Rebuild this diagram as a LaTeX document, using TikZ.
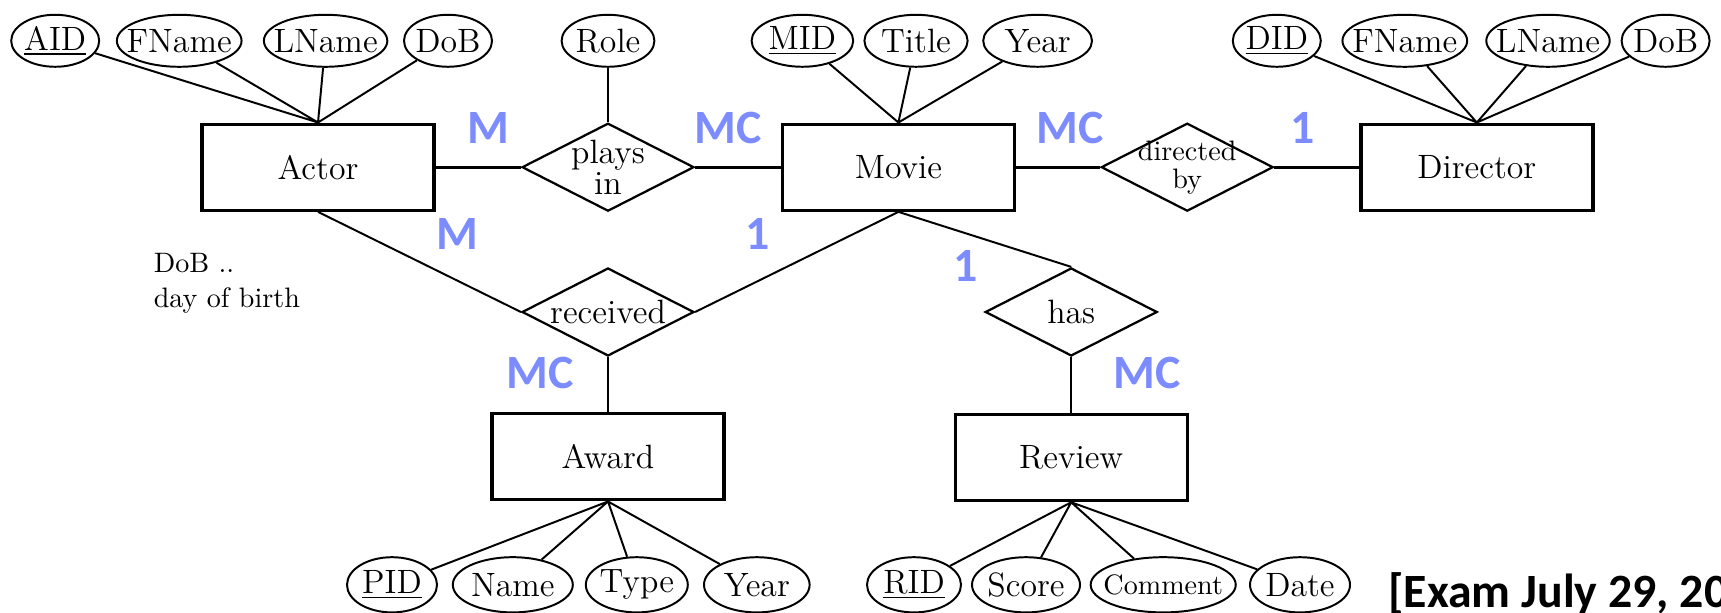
\documentclass[tikz,border=0pt]{standalone}
\usepackage{fontspec}
\usepackage{xcolor}
\usepackage{tikz}
\usetikzlibrary{shapes.geometric}
\newfontfamily\cardfont{Carlito}
\definecolor{cardblue}{RGB}{124,140,255}
\tikzstyle{entity}=[draw, line width=1.2pt, minimum width=2.9cm, minimum height=1.075cm, font=\large]
\tikzstyle{rel}=[draw, diamond, aspect=2, inner sep=0pt, minimum width=2.15cm, minimum height=1.1cm, line width=0.8pt]
\tikzstyle{attr}=[draw, ellipse, inner xsep=-3pt, inner ysep=0pt, minimum width=1.1cm, minimum height=0.65cm, line width=0.7pt, font=\large]
\tikzstyle{card}=[cardblue, inner sep=0pt, font=\fontsize{17}{20}\selectfont\cardfont\bfseries]

\begin{document}
\begin{tikzpicture}[line width=0.7pt]
        \useasboundingbox (0,0) rectangle (21.5125,-7.6625);

        % Entities
        \node[entity] (actor) at (3.975,-2.09) {Actor};
        \node[entity] (movie) at (11.23,-2.09) {Movie};
        \node[entity] (director) at (18.46,-2.09) {Director};
        \node[entity] (award) at (7.6,-5.71) {Award};
        \node[entity] (review) at (13.39,-5.72) {Review};

        % Relationships
        \node[rel, label={[font=\fontsize{12}{11}\selectfont, align=center]center:plays\\in}] (plays) at (7.6,-2.09) {};
        \node[rel, label={[font=\fontsize{10}{10}\selectfont, align=center]center:directed\\by}] (dirby) at (14.84,-2.09) {};
        \node[rel, label={[font=\large]center:received}] (received) at (7.6,-3.9) {};
        \node[rel, label={[font=\large]center:has}] (has) at (13.39,-3.9) {};

        % Attributes (top row)
        \node[attr] (aid) at (0.69,-0.51) {\underline{AID}};
        \node[attr] (afname) at (2.24,-0.51) {FName};
        \node[attr] (alname) at (4.07,-0.51) {LName};
        \node[attr] (adob) at (5.6,-0.51) {DoB};
        \node[attr, minimum width=1.16cm] (role) at (7.6,-0.51) {Role};
        \node[attr, minimum width=1.27cm] (mid) at (10.03,-0.51) {\underline{MID}};
        \node[attr, minimum width=1.29cm] (title) at (11.45,-0.51) {Title};
        \node[attr, minimum width=1.36cm] (myear) at (12.97,-0.51) {Year};
        \node[attr] (did) at (15.96,-0.51) {\underline{DID}};
        \node[attr] (dfname) at (17.56,-0.51) {FName};
        \node[attr] (dlname) at (19.35,-0.51) {LName};
        \node[attr] (ddob) at (20.82,-0.51) {DoB};

        % Attributes (bottom row)
        \node[attr, minimum height=0.69cm, minimum width=1.125cm] (pid) at (4.9,-7.31) {\underline{PID}};
        \node[attr, minimum height=0.69cm, minimum width=1.5cm] (aname) at (6.41,-7.31) {Name};
        \node[attr, minimum height=0.69cm, minimum width=1.275cm] (atype) at (7.96,-7.31) {Type};
        \node[attr, minimum height=0.69cm, minimum width=1.32cm] (ayear) at (9.46,-7.31) {Year};
        \node[attr, minimum height=0.69cm, minimum width=1.175cm] (rid) at (11.425,-7.31) {\underline{RID}};
        \node[attr, minimum height=0.69cm, minimum width=1.35cm] (score) at (12.825,-7.31) {Score};
        \node[attr, minimum height=0.69cm, font=\normalsize] (comment) at (14.54,-7.31) {Comment};
        \node[attr, minimum height=0.69cm, minimum width=1.25cm] (date) at (16.25,-7.31) {Date};

        % Attribute lines
        \draw (aid) -- (actor.north) (afname) -- (actor.north) (alname) -- (actor.north) (adob) -- (actor.north);
        \draw (mid) -- (movie.north) (title) -- (movie.north) (myear) -- (movie.north);
        \draw (did) -- (director.north) (dfname) -- (director.north) (dlname) -- (director.north) (ddob) -- (director.north);
        \draw (pid) -- (award.south) (aname) -- (award.south) (atype) -- (award.south) (ayear) -- (award.south);
        \draw (rid) -- (review.south) (score) -- (review.south) (comment) -- (review.south) (date) -- (review.south);
        \draw[line width=0.9pt] (role) -- (plays);

        % Relationship lines
        \draw[line width=1pt] (actor) -- (plays) -- (movie) -- (dirby) -- (director);
        \draw (actor.south) -- (received.west);
        \draw (movie.south) -- (received.east);
        \draw (movie.south) -- (has.north);
        \draw (received) -- (award);
        \draw (has) -- (review);

        % Cardinalities
        \node[card] (cplaysa) at (6.11,-1.6) {M};
        \node[card] (cplaysm) at (9.1,-1.6) {MC};
        \node[card] (cdirm) at (13.38,-1.6) {MC};
        \node[card] (cdird) at (16.28,-1.6) {1};
        \node[card] (crecva) at (5.72,-2.93) {M};
        \node[card] (crecvm) at (9.47,-2.93) {1};
        \node[card] (chasm) at (12.07,-3.33) {1};
        \node[card] (crecvw) at (6.75,-4.66) {MC};
        \node[card] (chasr) at (14.34,-4.66) {MC};

        % Notes
        \node[anchor=west, inner sep=0pt, align=left, font=\fontsize{10}{12.4}\selectfont] (note) at (1.91,-3.54) {DoB ..\\day of birth};
        \node[anchor=base west, inner sep=0pt, font=\fontsize{17}{20}\selectfont\cardfont\bfseries] (exam) at (17.34,-7.6) {[Exam July 29, 20};
    \end{tikzpicture}
\end{document}
